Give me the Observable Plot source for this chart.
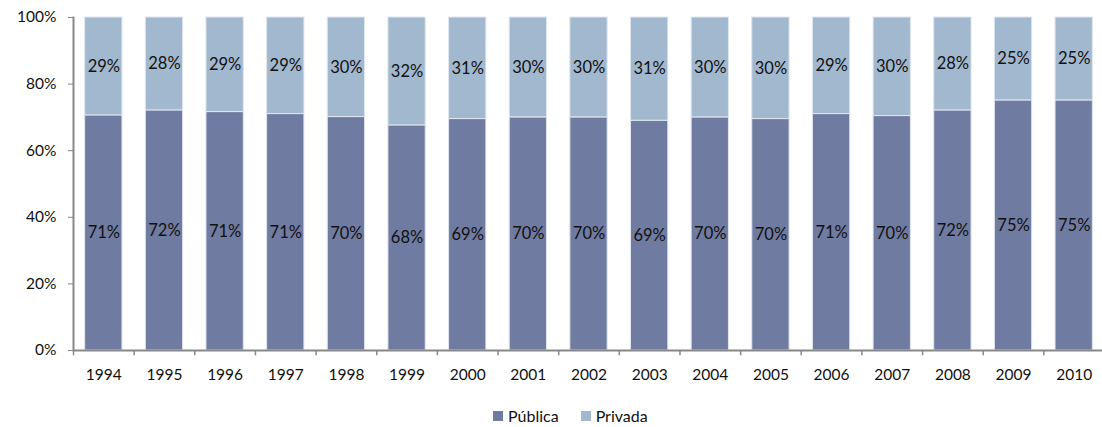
<!DOCTYPE html>
<html>
<head>
<meta charset="utf-8">
<script src="https://cdn.jsdelivr.net/npm/d3@7"></script>
<script src="https://cdn.jsdelivr.net/npm/@observablehq/plot@0.6"></script>
<style>
  html, body { margin: 0; padding: 0; background: #fff; }
  body { width: 1102px; height: 427px; overflow: hidden; font-family: Lato, "Open Sans", sans-serif; position: relative; }
  #legend { position: absolute; top: 406px; left: 493px; display: flex; gap: 22px; font-size: 16px; color: #111; line-height: 20px; }
  #legend span.item { display: inline-flex; align-items: center; }
  #legend span.sw { display: inline-block; width: 10px; height: 10px; margin-right: 5px; }
</style>
</head>
<body>
<div id="chart"></div>
<div id="legend"></div>
<script>
const years = ["1994","1995","1996","1997","1998","1999","2000","2001","2002","2003","2004","2005","2006","2007","2008","2009","2010"];
const publica = [70.6,72.1,71.6,71.0,70.1,67.6,69.5,70.0,70.0,69.0,70.0,69.5,71.0,70.4,72.1,75.1,75.1];
const publicaLabels = [71,72,71,71,70,68,69,70,70,69,70,70,71,70,72,75,75];
const privadaLabels = [29,28,29,29,30,32,31,30,30,31,30,30,29,30,28,25,25];
const series = ["Pública","Privada"];
const colors = ["#707BA1","#A1B8CF"];
const yTicks = [0,0.2,0.4,0.6,0.8,1];

const data = [];
years.forEach((y,i) => data.push({year:y, tipo:"Pública", value:publica[i]/100, label:publicaLabels[i]+"%"}));
years.forEach((y,i) => data.push({year:y, tipo:"Privada", value:(100-publica[i])/100, label:privadaLabels[i]+"%"}));

const W = 1102, ML = 73, MR = -2;
const step = (W - ML - MR) / years.length;

const chart = Plot.plot({
  width: W, height: 395,
  marginLeft: ML, marginRight: MR, marginTop: 17, marginBottom: 45,
  style: {fontFamily: "Lato, 'Open Sans', sans-serif", fontSize: "16px", color: "#111", overflow: "visible"},
  x: {domain: years, paddingInner: 0.385, paddingOuter: 0.1925, round: false, label: null},
  y: {domain: [0,1], label: null},
  color: {domain: series, range: colors},
  marks: [
    Plot.barY(data, {x:"year", y:"value", fill:"tipo", stroke:"#dfe6f0", strokeWidth:1}),
    Plot.text(data, Plot.stackY({x:"year", y:"value", z:"tipo", text:"label", fill:"#111", fontSize:16.5})),
    Plot.axisY({ticks: yTicks, tickFormat: d => Math.round(d*100)+"%", tickSize:5, tickPadding:12, stroke:"#888", fontSize:15.5, fill:"#111", label:null}),
    Plot.axisX({tickSize:0, tickPadding:18, fontSize:15.5, fill:"#111", label:null}),
    Plot.ruleX(years, {x: d=>d, dx: -step/2, y1: 0, y2: -0.016, stroke:"#888", strokeWidth:1.5}),
    Plot.ruleY([0], {stroke:"#888", strokeWidth:2}),
    Plot.frame({anchor:"left", stroke:"#888", strokeWidth:2})
  ]
});
document.getElementById("chart").appendChild(chart);

const legend = document.getElementById("legend");
series.forEach((s,i) => {
  const item = document.createElement("span");
  item.className = "item";
  const sw = document.createElement("span");
  sw.className = "sw";
  sw.style.background = colors[i];
  item.appendChild(sw);
  item.appendChild(document.createTextNode(s));
  legend.appendChild(item);
});
</script>
</body>
</html>
